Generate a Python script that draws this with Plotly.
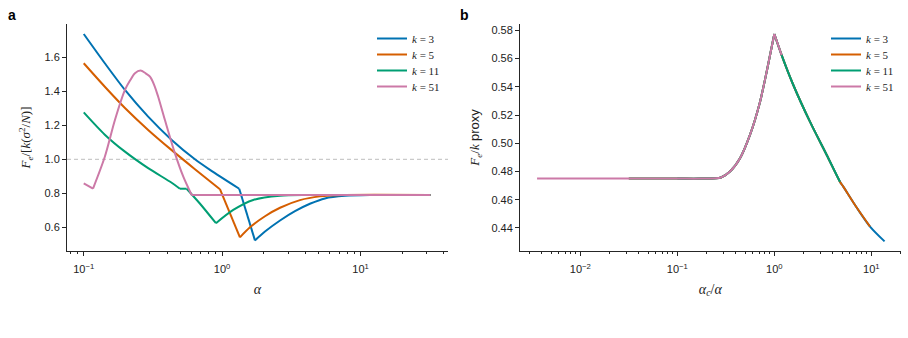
import plotly.graph_objects as go

# ---------------- data ----------------
K_VALUES = ["3", "5", "11", "51"]
COLORS = ["#0072B2", "#D55E00", "#009E73", "#CC79A7"]

# Panel a : F_e / [k (sigma^2/N)] versus alpha
ALPHA_K3 = [0.1, 0.142, 0.1985, 0.292, 0.432, 0.636, 0.817, 1.329, 1.726, 2.04, 2.62, 3.36, 4.35, 5.53, 7.72, 11.7, 32.0]
VAL_K3 = [1.737, 1.565, 1.408, 1.251, 1.114, 1.0, 0.938, 0.827, 0.523, 0.575, 0.640, 0.695, 0.740, 0.770, 0.785, 0.790, 0.790]
KINKS_K3 = [7, 8]

ALPHA_K5 = [0.1, 0.142, 0.1985, 0.292, 0.432, 0.636, 0.964, 1.345, 1.59, 2.04, 2.62, 3.65, 5.09, 7.72, 32.0]
VAL_K5 = [1.565, 1.427, 1.302, 1.173, 1.054, 0.942, 0.824, 0.541, 0.600, 0.665, 0.715, 0.760, 0.782, 0.790, 0.790]
KINKS_K5 = [6, 7]

ALPHA_K11 = [0.1, 0.142, 0.1985, 0.292, 0.432, 0.495, 0.554, 0.69, 0.902, 1.203, 1.677, 2.62, 4.35, 32.0]
VAL_K11 = [1.276, 1.145, 1.045, 0.948, 0.862, 0.827, 0.827, 0.740, 0.624, 0.702, 0.761, 0.786, 0.790, 0.790]
KINKS_K11 = [5, 6, 8]

ALPHA_K51 = [0.1, 0.1167, 0.142, 0.168, 0.1985, 0.217, 0.2344, 0.257, 0.280, 0.301, 0.323, 0.345, 0.386, 0.456, 0.524, 0.602, 32.0]
VAL_K51 = [0.859, 0.828, 1.015, 1.231, 1.408, 1.466, 1.506, 1.522, 1.506, 1.486, 1.437, 1.368, 1.231, 1.035, 0.898, 0.790, 0.790]
KINKS_K51 = [1, 15]

REF_LEVEL = 1.0

# Panel b : F_e/k proxy versus alpha_c/alpha (one shared curve, each k covers its own span)
RATIO = [0.00358, 0.01, 0.0316, 0.1, 0.178, 0.282, 0.349, 0.443, 0.561, 0.713, 0.834, 1.0,
         1.19, 1.57, 2.33, 3.47, 4.75, 5.14, 7.06, 9.70, 13.7]
PROXY = [0.4750, 0.4750, 0.4750, 0.4750, 0.4750, 0.4758, 0.4800, 0.4894, 0.5059, 0.5295, 0.5507, 0.5774,
         0.5625, 0.5413, 0.5153, 0.4917, 0.4728, 0.4693, 0.4545, 0.4410, 0.4305]
PEAK_RATIO = 1.0
RATIO_MIN = [0.043, 0.031, 0.0156, 0.00358]
RATIO_MAX = [13.7, 10.0, 5.0, 1.2]

LEFT_X = [ALPHA_K3, ALPHA_K5, ALPHA_K11, ALPHA_K51]
LEFT_Y = [VAL_K3, VAL_K5, VAL_K11, VAL_K51]
LEFT_KINKS = [KINKS_K3, KINKS_K5, KINKS_K11, KINKS_K51]

# ---------------- figure ----------------
W, H = 908, 338
SERIF = "Liberation Serif"
SANS = "Liberation Sans"
AX = "#262626"

fig = go.Figure()


def segments(xs, ys, kinks):
    cuts = [0] + list(kinks) + [len(xs) - 1]
    out = []
    for a, b in zip(cuts[:-1], cuts[1:]):
        out.append((xs[a:b + 1], ys[a:b + 1]))
    return out


def add_curve(xs, ys, kinks, color, name, legend, xa, ya):
    for i, (sx, sy) in enumerate(segments(xs, ys, kinks)):
        fig.add_trace(go.Scatter(x=sx, y=sy, mode="lines",
                                 line=dict(color=color, width=2, shape="spline", smoothing=0.8),
                                 name=name, legend=legend, legendgroup=legend,
                                 showlegend=(i == 0), xaxis=xa, yaxis=ya))


for i, (k, c, xs, ys, kk) in enumerate(zip(K_VALUES, COLORS, LEFT_X, LEFT_Y, LEFT_KINKS)):
    lg = "legend" if i == 0 else f"legend{i + 1}"
    add_curve(xs, ys, kk, c, f"<i>k</i> = {k}", lg, "x", "y")

for i, (k, c, lo, hi) in enumerate(zip(K_VALUES, COLORS, RATIO_MIN, RATIO_MAX)):
    xs = [u for u in RATIO if lo <= u <= hi]
    ys = [v for u, v in zip(RATIO, PROXY) if lo <= u <= hi]
    kinks = [j for j, u in enumerate(xs) if u == PEAK_RATIO and 0 < j < len(xs) - 1]
    add_curve(xs, ys, kinks, c, f"<i>k</i> = {k}", f"legend{i + 5}", "x2", "y2")


def dom_x(a, b):
    return [a / W, b / W]


def dom_y(top, bottom):
    return [1 - bottom / H, 1 - top / H]


tickfont = dict(family=SANS, size=11, color="#222")
common = dict(showline=True, linecolor=AX, linewidth=1, ticks="outside", ticklen=4, tickwidth=1,
              tickcolor=AX, showgrid=False, zeroline=False, tickfont=tickfont, mirror=False)

minor_a = [0.08, 0.09] + [m * 0.1 for m in range(2, 10)] + list(range(2, 10)) + [20, 30, 40]
minor_b = ([m * 0.001 for m in range(3, 10)] + [m * 0.01 for m in range(2, 10)] +
           [m * 0.1 for m in range(2, 10)] + list(range(2, 10)) + [20])

layout = dict(
    width=W, height=H, margin=dict(l=0, r=0, t=0, b=0),
    paper_bgcolor="white", plot_bgcolor="white",
    xaxis=dict(domain=dom_x(67, 448), type="log", range=[-1.121, 1.632], anchor="y",
               tickmode="array", tickvals=[0.1, 1, 10],
               ticktext=["10<sup>−1</sup>", "10<sup>0</sup>", "10<sup>1</sup>"],
               ticklabelstandoff=4,
               minor=dict(tickvals=minor_a, ticks="outside", ticklen=2, tickwidth=0.8, tickcolor=AX),
               title=dict(text="<i>α</i>", font=dict(family=SERIF, size=14, color="#222"), standoff=9),
               **common),
    yaxis=dict(domain=dom_y(24, 251), range=[0.4606, 1.796], anchor="x",
               tickmode="array", tickvals=[0.6, 0.8, 1.0, 1.2, 1.4, 1.6], tickformat=".1f",
               title=dict(text="<i>F<sub>e</sub></i>/[<i>k</i>(<i>σ</i><sup>2</sup>/<i>N</i>)]",
                          font=dict(family=SERIF, size=13, color="#222"), standoff=10),
               **common),
    xaxis2=dict(domain=dom_x(520, 900.7), type="log", range=[-2.622, 1.303], anchor="y2",
                tickmode="array", tickvals=[0.01, 0.1, 1, 10],
                ticktext=["10<sup>−2</sup>", "10<sup>−1</sup>", "10<sup>0</sup>", "10<sup>1</sup>"],
                ticklabelstandoff=4,
                minor=dict(tickvals=minor_b, ticks="outside", ticklen=2, tickwidth=0.8, tickcolor=AX),
                title=dict(text="<i>α<sub>c</sub></i>/<i>α</i>", font=dict(family=SERIF, size=14, color="#222"),
                           standoff=9),
                **common),
    yaxis2=dict(domain=dom_y(24, 251), range=[0.4237, 0.5845], anchor="x2",
                tickmode="array", tickvals=[0.44, 0.46, 0.48, 0.50, 0.52, 0.54, 0.56, 0.58], tickformat=".2f",
                title=dict(text="<i>F<sub>e</sub></i>/<i>k</i> <span style=\"font-family:'Liberation Sans'\">proxy</span>",
                           font=dict(family=SERIF, size=13, color="#222"), standoff=8),
                **common),
    shapes=[dict(type="line", xref="x domain", x0=0, x1=1, yref="y", y0=REF_LEVEL, y1=REF_LEVEL,
                 line=dict(color="#bdbdbd", width=1, dash="4px,3px"), layer="below")],
    annotations=[
        dict(text="<b>a</b>", x=6 / W, y=1 - 5 / H, xref="paper", yref="paper", xanchor="left", yanchor="top",
             showarrow=False, font=dict(family=SANS, size=14, color="black")),
        dict(text="<b>b</b>", x=458 / W, y=1 - 5 / H, xref="paper", yref="paper", xanchor="left", yanchor="top",
             showarrow=False, font=dict(family=SANS, size=14, color="black")),
    ],
)

# one single-entry legend per row so the rows sit 16 px apart, as in the reference
row_tops = [24, 40, 56, 72]
for i in range(8):
    key = "legend" if i == 0 else f"legend{i + 1}"
    lx = 372 if i < 4 else 826
    layout[key] = dict(x=lx / W, y=1 - row_tops[i % 4] / H, xanchor="left", yanchor="top",
                       bgcolor="rgba(0,0,0,0)", font=dict(family=SERIF, size=11, color="#222"))

fig.update_layout(**layout)
fig.write_html("out.html")
